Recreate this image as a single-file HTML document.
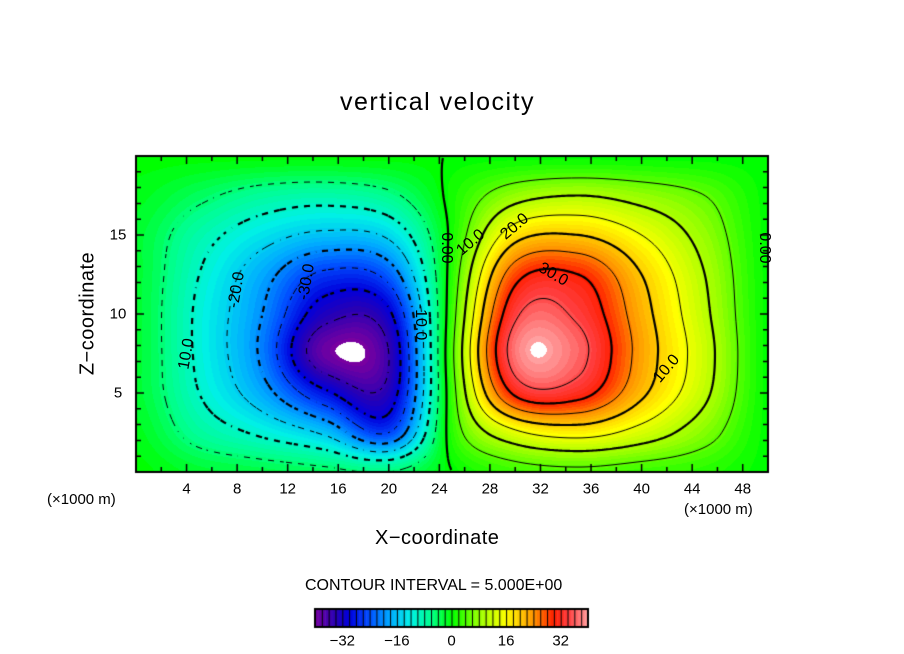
<!DOCTYPE html>
<html><head><meta charset="utf-8">
<style>
body{margin:0;background:#fff;width:904px;height:654px;overflow:hidden;position:relative;font-family:"Liberation Sans",sans-serif;}
.t{position:absolute;color:#000;white-space:nowrap;}
canvas,svg{position:absolute;left:0;top:0;}
</style></head><body>
<canvas id="c" width="904" height="654"></canvas>
<div class="t" style="left:340px;top:88px;font-size:25px;letter-spacing:1.5px;">vertical velocity</div>
<div class="t" style="left:375px;top:527px;font-size:20px;letter-spacing:0.5px;">X−coordinate</div>
<div class="t" style="left:-12px;top:302px;font-size:20px;letter-spacing:0.5px;transform:rotate(-90deg);width:200px;text-align:center;">Z−coordinate</div>
<div class="t" style="left:47px;top:491px;font-size:15px;">(×1000 m)</div>
<div class="t" style="left:684px;top:501px;font-size:15px;">(×1000 m)</div>
<div class="t" style="left:305px;top:577px;font-size:16px;">CONTOUR INTERVAL = 5.000E+00</div>
<div id="lbls"></div>
<script>
// grid x = 0..50 step 5, z = 0..20 step 2.5 (rows from bottom)
const gridX=[0,5,10,15,20,25,30,35,40,45,50];
const gridZ=[0,2.5,5,7.5,10,12.5,15,17.5,20];
const row0=[0,-2,-3,-4,-5,0,3,4,3,2,0];
const row1=[-1,-7,-11,-16,-25,2,14,17,13,7,0];
const row2=[-2,-10,-18,-29,-33,3,31,32,21,11,0];
const row3=[-2,-11,-21,-39,-35,4,37.5,36.5,23,12,0];
const row4=[-2,-11,-20,-33,-31,3,34,34,22,11,0];
const row5=[-2,-10,-18,-26,-23,2,28,30,20,10,0];
const row6=[-2,-8,-13,-16,-14,1,18,20,15,8,0];
const row7=[-1,-4,-7,-8,-6,1,8,10,8,5,0];
const row8=[0,0,0,0,0,0,0,0,0,0,0];
const rows=[row0,row1,row2,row3,row4,row5,row6,row7,row8];
const xTicks=[4,8,12,16,20,24,28,32,36,40,44,48];
const zTicks=[5,10,15];
const cbTicks=[-32,-16,0,16,32];
const cLabels=[["10.0",4,7.5],["-20.0",8,11.5],["-30.0",13.5,12],["-10.0",22.5,9.5],["0.00",24.5,14.2],["10.0",26.5,14.5],["20.0",30,15.5],["30.0",33,12.5],["10.0",42,6.5],["0.00",49.7,14.2]];

const L=136,R=768,T=156,B=472,X0=0,X1=50,Z0=0,Z1=20;
const sx=x=>L+(x-X0)/(X1-X0)*(R-L);
const sz=z=>B-(z-Z0)/(Z1-Z0)*(B-T);
function cr(p0,p1,p2,p3,t){return 0.5*((2*p1)+(-p0+p2)*t+(2*p0-5*p1+4*p2-p3)*t*t+(-p0+3*p1-3*p2+p3)*t*t*t);}
function g(i,j){i=Math.max(0,Math.min(gridX.length-1,i));j=Math.max(0,Math.min(gridZ.length-1,j));return rows[j][i];}
function field(x,z){
  const fx=(x-gridX[0])/5, fz=(z-gridZ[0])/2.5;
  const i=Math.min(gridX.length-2,Math.floor(fx)), j=Math.min(gridZ.length-2,Math.floor(fz));
  const tx=fx-i, tz=fz-j; const c=[];
  for(let k=-1;k<3;k++) c.push(cr(g(i-1,j+k),g(i,j+k),g(i+1,j+k),g(i+2,j+k),tx));
  return cr(c[0],c[1],c[2],c[3],tz);
}
const stops=[[-40,[120,0,160]],[-34,[40,0,180]],[-30,[0,0,220]],[-24,[0,80,255]],[-18,[0,170,255]],[-12,[0,240,230]],[-6,[0,255,140]],[0,[0,255,0]],[8,[150,255,0]],[16,[255,255,0]],[24,[255,150,0]],[30,[255,30,0]],[34,[255,60,60]],[40,[255,160,160]]];
function col(v){
  if(v<=stops[0][0])return stops[0][1];
  for(let k=1;k<stops.length;k++){if(v<=stops[k][0]){const a=stops[k-1],b=stops[k],t=(v-a[0])/(b[0]-a[0]);return a[1].map((q,m)=>Math.round(q+(b[1][m]-q)*t));}}
  return stops[stops.length-1][1];
}
const cv=document.getElementById('c'),ctx=cv.getContext('2d');
const img=ctx.createImageData(R-L,B-T);
for(let py=0;py<B-T;py++)for(let px=0;px<R-L;px++){
  const x=X0+(px+0.5)/(R-L)*(X1-X0), z=Z1-(py+0.5)/(B-T)*(Z1-Z0);
  const v=field(x,z); let c=Math.abs(v)>40?[255,255,255]:col(Math.round(v));
  const o=(py*(R-L)+px)*4; img.data[o]=c[0];img.data[o+1]=c[1];img.data[o+2]=c[2];img.data[o+3]=255;
}
ctx.putImageData(img,L,T);
// contours via marching squares
const N=2, nx=Math.ceil((R-L)/N), nz=Math.ceil((B-T)/N), F=[];
for(let j=0;j<=nz;j++){F[j]=[];for(let i=0;i<=nx;i++){F[j][i]=field(X0+i*N/(R-L)*(X1-X0),Z1-j*N/(B-T)*(Z1-Z0));}}
ctx.save();ctx.beginPath();ctx.rect(L,T,R-L,B-T);ctx.clip();
for(let lev=-35;lev<=35;lev+=5){
  ctx.beginPath();
  for(let j=0;j<nz;j++)for(let i=0;i<nx;i++){
    if(lev<0 && (Math.floor(i/3)+Math.floor(j/3))%2===1) continue;
    const a=F[j][i],b=F[j][i+1],c=F[j+1][i+1],d=F[j+1][i];
    const pts=[];
    const e=(v1,v2,x1,y1,x2,y2)=>{if((v1-lev)*(v2-lev)<0){const t=(lev-v1)/(v2-v1);pts.push([L+(x1+(x2-x1)*t)*N,T+(y1+(y2-y1)*t)*N]);}};
    e(a,b,i,j,i+1,j);e(b,c,i+1,j,i+1,j+1);e(c,d,i+1,j+1,i,j+1);e(d,a,i,j+1,i,j);
    for(let k=0;k+1<pts.length;k+=2){ctx.moveTo(pts[k][0],pts[k][1]);ctx.lineTo(pts[k+1][0],pts[k+1][1]);}
  }
  ctx.lineWidth=(lev%10===0)?2.2:1;
  ctx.strokeStyle='#000';
  ctx.stroke();
}
ctx.restore();
// frame & ticks
ctx.strokeStyle='#000';ctx.lineWidth=2;ctx.strokeRect(L,T,R-L,B-T);ctx.lineWidth=1.5;
ctx.beginPath();
for(let x=2;x<50;x+=2){const len=x%4===0?8:5;const X=sx(x);ctx.moveTo(X,B);ctx.lineTo(X,B-len);ctx.moveTo(X,T);ctx.lineTo(X,T+len);}
for(let z=1;z<20;z++){const len=z%5===0?8:5;const Y=sz(z);ctx.moveTo(L,Y);ctx.lineTo(L+len,Y);ctx.moveTo(R,Y);ctx.lineTo(R-len,Y);}
ctx.stroke();
// colorbar
const cbL=315,cbR=588,cbT=609,cbB=627,cv0=-40,cv1=40;
const cbx=v=>cbL+(v-cv0)/(cv1-cv0)*(cbR-cbL);
for(let v=-40;v<40;v++){const c=col(v+0.5);ctx.fillStyle=`rgb(${c})`;ctx.fillRect(cbx(v),cbT,cbx(v+1)-cbx(v)+0.5,cbB-cbT);}
ctx.strokeStyle='#000';ctx.lineWidth=1;ctx.beginPath();
for(let v=-39;v<40;v++){if(v%2)continue;ctx.moveTo(cbx(v)+0.5,cbT);ctx.lineTo(cbx(v)+0.5,cbB);}
ctx.stroke();ctx.lineWidth=2;ctx.strokeRect(cbL,cbT,cbR-cbL,cbB-cbT);
// text labels
const lb=document.getElementById('lbls');
function addT(txt,x,y,size,name,rot){const d=document.createElement('div');d.className='t';d.textContent=txt;


d.style.fontSize=size+'px';d.style.left=x+'px';d.style.top=y+'px';d.style.transform='translate(-50%,-50%)'+(rot?' rotate('+rot+'deg)':'');lb.appendChild(d);}
xTicks.forEach(v=>addT(String(v),sx(v),489,15,'x-tick-label'));
zTicks.forEach(v=>addT(String(v),L-18,sz(v),15,'z-tick-label'));
cbTicks.forEach(v=>addT(v<0?'−'+(-v):String(v),cbx(v),641,15,'colorbar-tick-label'));
cLabels.forEach(c=>addT(c[0],sx(c[1]),sz(c[2]),16,'contour-label',c[0].indexOf('0.00')===0?90:(c[1]<25?(c[1]>20?90:-80):(c[1]>40?-50:(c[1]>31?30:-40)))));
</script>
</body></html>
